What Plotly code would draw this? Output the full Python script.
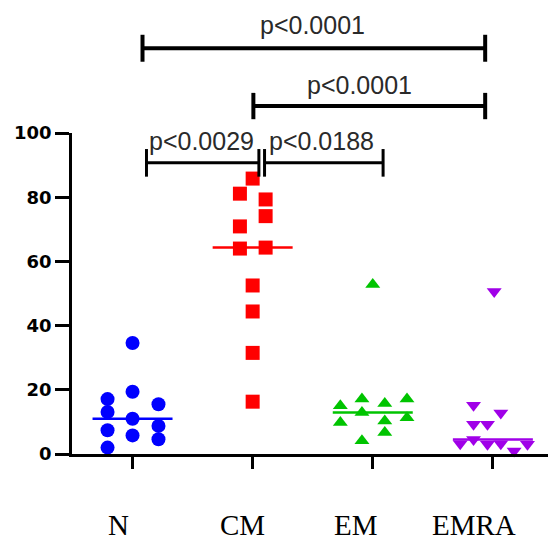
import numpy as np
import plotly.graph_objects as go

# ---- data ----
categories = ["N", "CM", "EM", "EMRA"]
n_values = [34.6, 19.4, 17.1, 15.5, 13.1, 11.0, 8.75, 7.4, 5.8, 4.6, 2.0]
cm_values = [85.8, 81.1, 79.3, 74.1, 70.9, 64.0, 64.3, 52.5, 44.4, 31.5, 16.3]
em_values = [52.8, 17.1, 17.1, 15.0, 15.7, 12.9, 9.8, 11.3, 10.3, 6.7, 4.1]
emra_values = [50.6, 15.2, 12.8, 9.3, 9.3, 4.5, 3.2, 3.0, 3.2, 3.0, 0.9]
y_ticks = [0, 20, 40, 60, 80, 100]
p_labels = ["p<0.0001", "p<0.0001", "p<0.0029", "p<0.0188"]

# ---- layout / style helpers (horizontal scatter of points within a group) ----
n_offsets = [0, 0, -0.208, 0.216, -0.208, 0, 0.216, -0.208, 0, 0.216, -0.208]
cm_offsets = [0, -0.106, 0.108, 0.108, -0.106, -0.106, 0.108, 0, 0, 0, 0]
em_offsets = [0, -0.09, 0.285, -0.27, 0.1, -0.09, -0.27, 0.285, 0.1, 0.1, -0.09]
emra_offsets = [0.011, -0.161, 0.066, -0.161, -0.045, -0.161, -0.272, -0.045, 0.066, 0.288, 0.177]

groups = [
    (n_values, n_offsets, "#0000FF", "circle", 14),
    (cm_values, cm_offsets, "#FF0000", "square", 14),
    (em_values, em_offsets, "#00C400", "triangle-up", 13),
    (emra_values, emra_offsets, "#A000E8", "triangle-down", 13),
]

fig = go.Figure()
for i, (vals, offs, color, symbol, size) in enumerate(groups):
    fig.add_trace(go.Scatter(
        x=[i + o for o in offs], y=vals, mode="markers",
        marker=dict(color=color, symbol=symbol, size=size, line=dict(width=0)),
        cliponaxis=False, showlegend=False, hoverinfo="skip"))
    med = float(np.median(vals))
    fig.add_trace(go.Scatter(
        x=[i - 0.333, i + 0.333], y=[med, med], mode="lines",
        line=dict(color=color, width=2.5), showlegend=False, hoverinfo="skip"))

# ---- significance brackets (x in category units, y in paper units) ----
brackets = [
    # x0, x1, y_line, tick half-height, width, text x, text y
    (0.083, 2.936, 1.264, 0.042, 4, 1.496, 1.335),
    (1.006, 2.936, 1.084, 0.041, 4, 1.891, 1.150),
    (0.116, 1.052, 0.907, 0.043, 3, 0.574, 0.976),
    (1.099, 2.086, 0.907, 0.043, 3, 1.576, 0.976),
]
for (x0, x1, yl, th, w, tx, ty), lab in zip(brackets, p_labels):
    line = dict(color="black", width=w)
    fig.add_shape(type="line", xref="x", yref="paper", x0=x0, x1=x1, y0=yl, y1=yl, line=line)
    fig.add_shape(type="line", xref="x", yref="paper", x0=x0, x1=x0, y0=yl - th, y1=yl + th, line=line)
    fig.add_shape(type="line", xref="x", yref="paper", x0=x1, x1=x1, y0=yl - th, y1=yl + th, line=line)
    fig.add_annotation(x=tx, y=ty, xref="x", yref="paper", text=lab, showarrow=False,
                       xanchor="center", yanchor="middle",
                       font=dict(family="Liberation Sans, Arial", size=25, color="#2a2a2a"))

# ---- category labels (serif, set below the axis) ----
label_shifts = [-14, -10, -17, -19]
for i, (cat, sh) in enumerate(zip(categories, label_shifts)):
    fig.add_annotation(x=i, y=-0.2735, xref="x", yref="paper", text=cat, showarrow=False,
                       xshift=sh, xanchor="center", yanchor="bottom", borderpad=0,
                       font=dict(family="Liberation Serif, Times New Roman", size=29, color="black"))

fig.update_layout(
    width=548, height=542,
    margin=dict(l=72, r=0, t=133, b=88),
    paper_bgcolor="white", plot_bgcolor="white",
    showlegend=False,
)
fig.update_xaxes(
    range=[-0.504, 3.459], tickvals=[0, 1, 2, 3], showticklabels=False,
    showgrid=False, zeroline=False, showline=True, linecolor="black", linewidth=2.5,
    ticks="outside", ticklen=12, tickwidth=3, tickcolor="black",
)
fig.update_yaxes(
    range=[0, 100], tickvals=y_ticks, ticktext=[str(v) for v in y_ticks],
    showgrid=False, zeroline=False, showline=True, linecolor="black", linewidth=2.5,
    ticks="outside", ticklen=14, tickwidth=2.5, tickcolor="black",
    tickfont=dict(family="DejaVu Sans", size=18, color="black", weight="bold"),
)

fig.write_html("out.html")
